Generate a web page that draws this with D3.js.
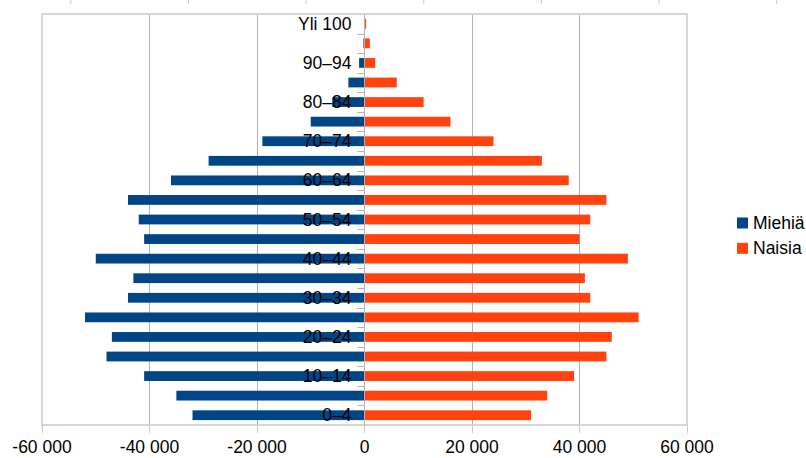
<!DOCTYPE html>
<html>
<head>
<meta charset="utf-8">
<script src="https://cdn.jsdelivr.net/npm/d3@7"></script>
<style>
  html, body { margin: 0; padding: 0; background: #fff; }
  svg { display: block; font-family: "Liberation Sans", Arial, sans-serif; }
</style>
</head>
<body>
<svg id="chart" width="806" height="458"></svg>
<script>
// Age groups, youngest first
const ageGroups = ["0–4", "5–9", "10–14", "15–19", "20–24", "25–29", "30–34", "35–39",
  "40–44", "45–49", "50–54", "55–59", "60–64", "65–69", "70–74", "75–79",
  "80–84", "85–89", "90–94", "95–99", "Yli 100"];

// Population by age group
const men   = [32000, 35000, 41000, 48000, 47000, 52000, 44000, 43000, 50000, 41000, 42000,
  44000, 36000, 29000, 19000, 10000, 6000, 3000, 1000, 200, 0];
const women = [31000, 34000, 39000, 45000, 46000, 51000, 42000, 41000, 49000, 40000, 42000,
  45000, 38000, 33000, 24000, 16000, 11000, 6000, 2000, 1000, 300];

const seriesNames = ["Miehiä", "Naisia"];
const seriesColors = ["#004586", "#ff420e"];
const xTicks = [-60000, -40000, -20000, 0, 20000, 40000, 60000];

const svg = d3.select("#chart");
const plot = { left: 42, right: 687, top: 14, bottom: 425 };

const x = d3.scaleLinear().domain([-60000, 60000]).range([plot.left, plot.right]);
const y = d3.scaleBand().domain(ageGroups.slice().reverse())
  .range([plot.top, plot.bottom]).paddingInner(0.5).paddingOuter(0.25);
const yEdge = d3.scaleBand().domain(ageGroups.slice().reverse())
  .range([plot.top, plot.bottom]);
const px = v => Math.floor(x(v)) + 0.5;

const fi = d3.formatLocale({ decimal: ",", thousands: " ", grouping: [3], currency: ["", " €"], minus: "-" });
const fmt = fi.format(",d");

// Short ruler marks along the top edge
const rulerStep = 117.65;
svg.append("g").selectAll("line").data(d3.range(7)).join("line")
  .attr("x1", d => 70.8 + d * rulerStep).attr("x2", d => 70.8 + d * rulerStep)
  .attr("y1", 0).attr("y2", 4)
  .attr("stroke", "#c8c8c8").attr("stroke-width", 1);

// Vertical gridlines
svg.append("g").selectAll("line").data(xTicks.filter(t => t !== -60000 && t !== 60000)).join("line")
  .attr("x1", d => px(d)).attr("x2", d => px(d))
  .attr("y1", plot.top).attr("y2", plot.bottom)
  .attr("stroke", "#b3b3b3").attr("stroke-width", 1);

// Plot frame
svg.append("rect")
  .attr("x", plot.left).attr("y", plot.top)
  .attr("width", plot.right - plot.left).attr("height", plot.bottom - plot.top)
  .attr("fill", "none").attr("stroke", "#d6d6d6").attr("stroke-width", 2);

// Bars
const rows = ageGroups.map((g, i) => ({ group: g, men: men[i], women: women[i] }));
svg.append("g").selectAll("rect").data(rows).join("rect")
  .attr("x", d => x(-d.men)).attr("y", d => y(d.group))
  .attr("width", d => x(0) - x(-d.men)).attr("height", y.bandwidth())
  .attr("fill", seriesColors[0]);
svg.append("g").selectAll("rect").data(rows).join("rect")
  .attr("x", x(0)).attr("y", d => y(d.group))
  .attr("width", d => x(d.women) - x(0)).attr("height", y.bandwidth())
  .attr("fill", seriesColors[1]);

// Category axis at zero with outward ticks on band boundaries
const x0 = px(0);
svg.append("line").attr("x1", x0).attr("x2", x0)
  .attr("y1", plot.top).attr("y2", plot.bottom + 8)
  .attr("stroke", "#b3b3b3");
svg.append("g").selectAll("line").data(ageGroups.slice(1)).join("line")
  .attr("x1", x0 - 7).attr("x2", x0)
  .attr("y1", d => Math.round(yEdge(d) + yEdge.bandwidth()) + 0.5)
  .attr("y2", d => Math.round(yEdge(d) + yEdge.bandwidth()) + 0.5)
  .attr("stroke", "#b3b3b3");

// Category labels, every other group
svg.append("g").selectAll("text").data(ageGroups.filter((g, i) => i % 2 === 0)).join("text")
  .attr("x", x0 - 13).attr("y", d => y(d) + y.bandwidth() / 2)
  .attr("text-anchor", "end").attr("dominant-baseline", "central")
  .attr("font-size", 17.5).attr("fill", "#000")
  .text(d => d);

// Value axis ticks and labels along the bottom
svg.append("g").selectAll("line").data(xTicks).join("line")
  .attr("x1", d => px(d)).attr("x2", d => px(d))
  .attr("y1", plot.bottom).attr("y2", plot.bottom + 8)
  .attr("stroke", "#c8c8c8");
svg.append("g").selectAll("text").data(xTicks).join("text")
  .attr("x", d => x(d)).attr("y", 453)
  .attr("text-anchor", "middle")
  .attr("font-size", 17.5).attr("fill", "#000")
  .text(d => fmt(d));

// Legend
const legend = svg.append("g").selectAll("g").data(seriesNames).join("g")
  .attr("transform", (d, i) => `translate(737, ${223 + i * 25.3})`);
legend.append("rect").attr("x", 0).attr("y", -5.5).attr("width", 11).attr("height", 11)
  .attr("fill", (d, i) => seriesColors[i]);
legend.append("text").attr("x", 16).attr("y", 0)
  .attr("dominant-baseline", "central").attr("font-size", 17.5).attr("fill", "#000")
  .text(d => d);
</script>
</body>
</html>
